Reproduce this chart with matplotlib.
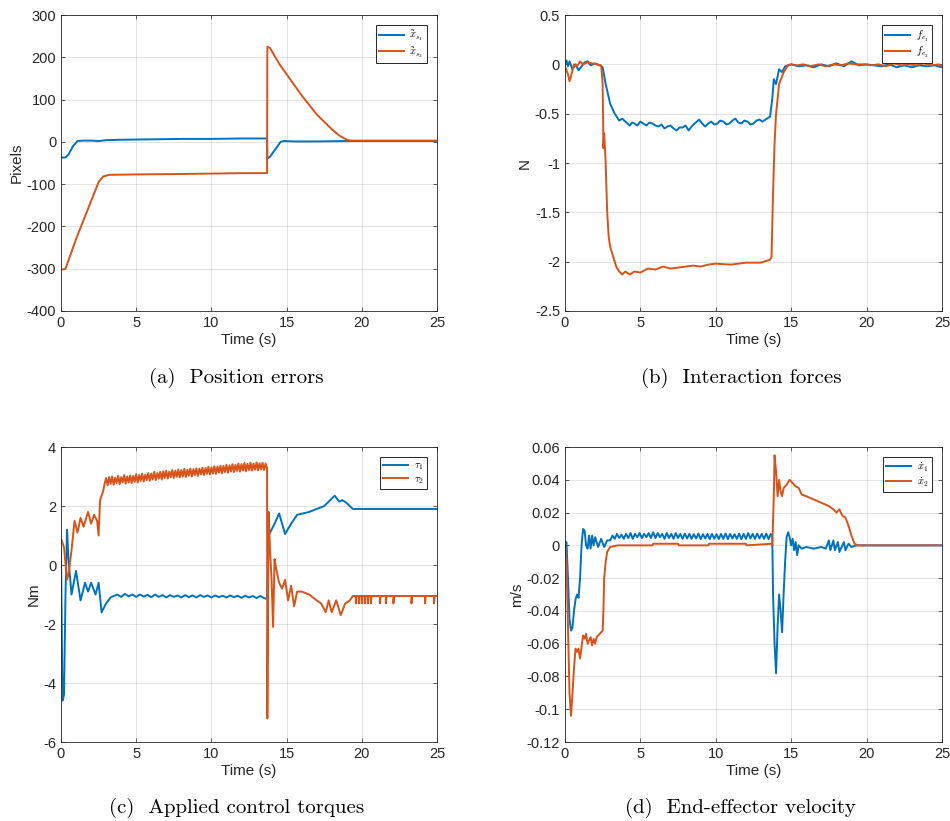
import matplotlib
matplotlib.use('Agg')
import matplotlib.pyplot as plt
from matplotlib.ticker import FuncFormatter

plt.rcParams['font.family'] = ['Liberation Sans', 'DejaVu Sans']
plt.rcParams['mathtext.fontset'] = 'cm'
plt.rcParams['axes.unicode_minus'] = False

BLUE = '#0072BD'
ORANGE = '#D95319'
DARK = '#262626'

# (a) position errors, (time, pixels)
xs1 = [(0, -37), (0.3, -37), (0.5, -30), (0.8, -10), (1.1, 2), (1.5, 3), (2.0, 3), (2.5, 2),
       (3.0, 4), (4, 5), (6, 6), (8, 7), (10, 7), (12, 8), (13.7, 8), (13.72, -40), (13.9, -35),
       (14.2, -20), (14.6, 0), (14.8, 2), (15.5, 1), (17, 1), (19, 2), (21, 2), (25, 2)]
xs2 = [(0, -303), (0.3, -300), (0.5, -280), (1.0, -230), (1.5, -185), (2.0, -140), (2.5, -95),
       (2.8, -82), (3.2, -78), (5, -77), (8, -76), (10, -75), (12, -74), (13.7, -74),
       (13.72, 225), (13.9, 222), (14.5, 185), (15, 160), (16, 110), (17, 65), (18, 30),
       (18.5, 15), (19, 5), (19.3, 3), (25, 3)]

# (b) interaction forces, (time, N)
fe1 = [(0, 0), (0.1, 0.04), (0.2, -0.02), (0.3, 0.03), (0.5, -0.05), (0.7, 0.0), (0.9, -0.06),
       (1.1, -0.02), (1.3, 0.02), (1.5, 0.03), (1.7, -0.01), (2.0, 0.01), (2.3, -0.01),
       (2.5, -0.03), (2.7, -0.2), (3.0, -0.4), (3.3, -0.5), (3.6, -0.57), (3.8, -0.55),
       (4.0, -0.58), (4.15, -0.6), (4.3, -0.62), (4.45, -0.59), (4.6, -0.6), (4.8, -0.62),
       (5.0, -0.58), (5.2, -0.6), (5.4, -0.62), (5.6, -0.59), (5.8, -0.6), (6.0, -0.62),
       (6.2, -0.63), (6.4, -0.61), (6.6, -0.65), (6.8, -0.63), (7.0, -0.62), (7.2, -0.65),
       (7.4, -0.67), (7.6, -0.64), (7.8, -0.64), (8.0, -0.62), (8.2, -0.67), (8.4, -0.63),
       (8.6, -0.6), (8.75, -0.58), (8.9, -0.56), (9.1, -0.6), (9.3, -0.63), (9.5, -0.6),
       (9.7, -0.58), (9.9, -0.61), (10.1, -0.6), (10.3, -0.57), (10.5, -0.58), (10.7, -0.61),
       (10.9, -0.6), (11.1, -0.57), (11.3, -0.55), (11.5, -0.59), (11.7, -0.6), (11.9, -0.57),
       (12.1, -0.58), (12.3, -0.61), (12.5, -0.6), (12.7, -0.57), (12.9, -0.56), (13.1, -0.58),
       (13.3, -0.56), (13.6, -0.53), (13.75, -0.35), (13.85, -0.15), (14.0, -0.2), (14.2, -0.05),
       (14.4, -0.08), (14.6, -0.02), (15.0, 0.0), (15.5, -0.02), (16.0, -0.01), (16.5, -0.03),
       (17.0, 0.0), (17.5, -0.02), (18.0, 0.01), (18.5, -0.02), (19.0, 0.03), (19.5, -0.01),
       (20.0, 0.0), (20.5, -0.01), (21.0, -0.02), (21.5, 0.0), (22.0, -0.03), (22.5, -0.01),
       (23.0, -0.03), (23.5, -0.01), (24.0, -0.02), (24.5, -0.01), (25.0, -0.03)]
fe2 = [(0, -0.02), (0.2, -0.1), (0.3, -0.17), (0.4, -0.12), (0.6, 0.0), (0.8, -0.02), (1.0, 0.03),
       (1.2, 0.0), (1.5, 0.02), (1.8, 0.01), (2.1, 0.0), (2.4, -0.01), (2.5, -0.2), (2.55, -0.85),
       (2.6, -0.7), (2.7, -1.0), (2.8, -1.5), (2.9, -1.75), (3.0, -1.85), (3.2, -1.95),
       (3.4, -2.05), (3.6, -2.1), (3.8, -2.13), (4.0, -2.1), (4.3, -2.13), (4.6, -2.1),
       (5.0, -2.11), (5.5, -2.07), (6.0, -2.08), (6.5, -2.05), (7.0, -2.07), (7.5, -2.06),
       (8.0, -2.05), (8.5, -2.04), (9.0, -2.05), (9.5, -2.03), (10.0, -2.02), (11.0, -2.03),
       (12.0, -2.01), (13.0, -2.01), (13.6, -1.98), (13.7, -1.95), (13.8, -1.3), (13.9, -0.8),
       (14.0, -0.5), (14.2, -0.2), (14.5, -0.08), (14.8, -0.01), (15.0, 0.0), (15.4, -0.01),
       (15.8, 0.0), (16.3, -0.02), (16.8, 0.0), (17.3, -0.02), (17.8, 0.0), (18.3, -0.01),
       (18.8, 0.01), (19.3, 0.0), (19.8, 0.0), (20.3, -0.01), (20.8, 0.0), (21.3, -0.02),
       (21.8, 0.01), (22.3, -0.01), (22.8, 0.0), (23.3, -0.01), (23.8, 0.01), (24.3, -0.01),
       (24.8, 0.0), (25.0, -0.02)]

# (c) applied torques, (time, Nm)
tau1 = [(0, 0.5), (0.1, -4.6), (0.2, -4.4), (0.3, -1.0), (0.4, 1.2), (0.5, 0.2), (0.7, -1.0),
        (1.0, -0.2), (1.3, -1.2), (1.6, -0.6), (1.8, -0.9), (2.0, -0.6), (2.3, -1.0),
        (2.5, -0.6), (2.7, -1.6), (3.0, -1.3), (3.3, -1.1), (3.5, -1.05), (3.75, -1.0),
        (4.0, -1.08), (4.25, -0.98), (4.5, -1.06), (4.75, -1.0), (5.0, -1.08), (5.25, -1.0),
        (5.5, -1.07), (5.75, -1.01), (6.0, -1.09), (6.25, -1.0), (6.5, -1.08), (6.75, -1.02),
        (7.0, -1.1), (7.25, -1.02), (7.5, -1.08), (7.75, -1.03), (8.0, -1.1), (8.25, -1.02),
        (8.5, -1.09), (8.75, -1.03), (9.0, -1.1), (9.25, -1.02), (9.5, -1.08), (9.75, -1.03),
        (10.0, -1.1), (10.25, -1.03), (10.5, -1.09), (10.75, -1.04), (11.0, -1.1),
        (11.25, -1.03), (11.5, -1.09), (11.75, -1.04), (12.0, -1.11), (12.25, -1.04),
        (12.5, -1.1), (12.75, -1.05), (13.0, -1.12), (13.25, -1.05), (13.5, -1.12),
        (13.7, -1.15), (13.8, 1.0), (14.2, 1.4), (14.5, 1.75), (14.9, 1.05), (15.3, 1.4),
        (15.7, 1.7), (16.5, 1.8), (17.5, 2.0), (18.2, 2.35), (18.5, 2.15), (18.7, 2.2),
        (19.0, 2.1), (19.4, 1.9), (22, 1.9), (25, 1.9)]
tau2 = [(0, 0.9), (0.2, 0.6), (0.4, -0.5), (0.5, -0.3), (0.7, 0.5), (0.9, 1.5), (1.1, 1.1),
        (1.3, 1.6), (1.5, 1.3), (1.8, 1.8), (2.0, 1.4), (2.2, 1.7), (2.4, 1.5), (2.5, 1.0),
        (2.6, 2.2), (2.8, 2.5), (2.9, 2.75),
        (3.0, 2.95), (3.1, 2.7), (3.2, 2.98), (3.3, 2.75), (3.4, 3.0), (3.5, 2.72), (3.6, 2.96),
        (3.7, 2.78), (3.8, 3.02), (3.9, 2.74), (4.0, 2.98), (4.1, 2.8), (4.2, 3.05), (4.3, 2.76),
        (4.4, 3.0), (4.5, 2.8), (4.6, 3.04), (4.7, 2.78), (4.8, 3.02), (4.9, 2.82), (5.0, 3.08),
        (5.1, 2.8), (5.2, 3.05), (5.3, 2.85), (5.4, 3.1), (5.5, 2.83), (5.6, 3.06), (5.7, 2.88),
        (5.8, 3.12), (5.9, 2.86), (6.0, 3.1), (6.1, 2.9), (6.2, 3.16), (6.3, 2.88), (6.4, 3.12),
        (6.5, 2.93), (6.6, 3.16), (6.7, 2.9), (6.8, 3.18), (6.9, 2.95), (7.0, 3.2), (7.1, 2.93),
        (7.2, 3.17), (7.3, 2.98), (7.4, 3.22), (7.5, 2.95), (7.6, 3.2), (7.7, 2.99), (7.8, 3.24),
        (7.9, 2.97), (8.0, 3.22), (8.1, 3.0), (8.2, 3.26), (8.3, 2.98), (8.4, 3.23), (8.5, 3.03),
        (8.6, 3.27), (8.7, 3.0), (8.8, 3.25), (8.9, 3.05), (9.0, 3.28), (9.1, 3.02), (9.2, 3.27),
        (9.3, 3.07), (9.4, 3.3), (9.5, 3.05), (9.6, 3.29), (9.7, 3.09), (9.8, 3.33), (9.9, 3.07),
        (10.0, 3.31), (10.1, 3.1), (10.2, 3.35), (10.3, 3.09), (10.4, 3.34), (10.5, 3.13),
        (10.6, 3.37), (10.7, 3.11), (10.8, 3.36), (10.9, 3.15), (11.0, 3.4), (11.1, 3.13),
        (11.2, 3.38), (11.3, 3.17), (11.4, 3.42), (11.5, 3.15), (11.6, 3.4), (11.7, 3.19),
        (11.8, 3.44), (11.9, 3.17), (12.0, 3.42), (12.1, 3.2), (12.2, 3.46), (12.3, 3.18),
        (12.4, 3.43), (12.5, 3.22), (12.6, 3.47), (12.7, 3.2), (12.8, 3.44), (12.9, 3.23),
        (13.0, 3.48), (13.1, 3.21), (13.2, 3.45), (13.3, 3.24), (13.4, 3.47), (13.5, 3.22),
        (13.6, 3.44), (13.7, 3.3), (13.72, -5.2), (13.8, 1.8),
        (13.9, 0.5), (14.0, -0.5), (14.1, -2.1), (14.2, 0.2), (14.3, -0.1), (14.5, -0.6),
        (14.7, -0.8), (14.9, -0.5), (15.1, -1.2), (15.3, -0.7), (15.5, -1.4), (15.7, -0.9),
        (16.0, -0.9), (16.5, -1.0), (17.0, -1.2), (17.3, -1.3), (17.6, -1.6), (17.8, -1.2),
        (18.0, -1.6), (18.3, -1.2), (18.6, -1.7), (18.9, -1.3), (19.2, -1.2), (19.4, -1.05),
        (19.6, -1.05), (19.6, -1.3), (19.65, -1.05), (19.8, -1.05), (19.8, -1.3), (19.85, -1.05),
        (20.0, -1.05), (20.0, -1.3), (20.05, -1.05), (20.2, -1.05), (20.2, -1.3), (20.25, -1.05),
        (20.4, -1.05), (20.4, -1.3), (20.45, -1.05), (20.6, -1.05), (20.6, -1.3), (20.65, -1.05),
        (21.2, -1.05), (21.2, -1.3), (21.25, -1.05), (21.6, -1.05), (21.6, -1.3), (21.65, -1.05),
        (22.1, -1.05), (22.1, -1.3), (22.15, -1.05), (23.3, -1.05), (23.3, -1.3), (23.35, -1.05),
        (24.2, -1.05), (24.2, -1.3), (24.25, -1.05), (24.8, -1.05), (24.8, -1.3), (24.85, -1.05),
        (25.0, -1.05)]

# (d) end-effector velocity, (time, m/s)
x1dot = [(0, 0.002), (0.1, 0.002), (0.2, -0.02), (0.3, -0.045), (0.4, -0.052), (0.5, -0.05),
         (0.6, -0.04), (0.7, -0.033), (0.8, -0.03), (0.9, -0.032), (1.0, -0.02), (1.1, 0.0),
         (1.2, 0.01), (1.3, 0.009), (1.4, 0.0), (1.5, -0.002), (1.6, 0.006), (1.7, -0.002),
         (1.8, 0.006), (1.9, 0.0), (2.0, 0.005), (2.2, -0.001), (2.4, 0.004), (2.6, -0.001),
         (2.8, 0.003), (3.0, 0.003), (3.15, 0.006), (3.3, 0.004), (3.45, 0.007), (3.6, 0.0045),
         (3.75, 0.0065), (3.9, 0.004), (4.05, 0.007), (4.2, 0.0045), (4.35, 0.0075), (4.5, 0.004),
         (4.65, 0.007), (4.8, 0.005), (4.95, 0.0075), (5.1, 0.0045), (5.25, 0.007), (5.4, 0.005),
         (5.55, 0.0075), (5.7, 0.0045), (5.85, 0.008), (6.0, 0.0045), (6.15, 0.0075),
         (6.3, 0.005), (6.45, 0.007), (6.6, 0.004), (6.75, 0.0075), (6.9, 0.0045), (7.05, 0.007),
         (7.2, 0.004), (7.35, 0.0075), (7.5, 0.0045), (7.65, 0.007), (7.8, 0.004), (7.95, 0.0072),
         (8.1, 0.0042), (8.25, 0.007), (8.4, 0.004), (8.55, 0.0068), (8.7, 0.0042),
         (8.85, 0.0072), (9.0, 0.0038), (9.15, 0.0068), (9.3, 0.0042), (9.45, 0.007),
         (9.6, 0.0038), (9.75, 0.007), (9.9, 0.004), (10.05, 0.0068), (10.2, 0.0038),
         (10.35, 0.007), (10.5, 0.004), (10.65, 0.0072), (10.8, 0.0038), (10.95, 0.007),
         (11.1, 0.0042), (11.25, 0.0068), (11.4, 0.004), (11.55, 0.0072), (11.7, 0.0038),
         (11.85, 0.007), (12.0, 0.004), (12.15, 0.0075), (12.3, 0.0042), (12.45, 0.007),
         (12.6, 0.004), (12.75, 0.0072), (12.9, 0.0042), (13.05, 0.007), (13.2, 0.004),
         (13.35, 0.0072), (13.5, 0.0038), (13.65, 0.007), (13.75, 0.005), (13.8, -0.03),
         (13.9, -0.06), (14.0, -0.078), (14.1, -0.05), (14.2, -0.03), (14.3, -0.04),
         (14.4, -0.053), (14.5, -0.03), (14.6, -0.01), (14.7, 0.005), (14.8, 0.008),
         (14.9, 0.005), (15.0, 0.0), (15.1, 0.004), (15.2, -0.003), (15.3, 0.002),
         (15.4, -0.006), (15.5, 0.0), (15.7, -0.002), (16.0, -0.001), (16.5, -0.002),
         (17.0, -0.001), (17.3, -0.002), (17.5, 0.003), (17.6, -0.003), (17.8, 0.003),
         (17.9, -0.003), (18.1, 0.002), (18.2, -0.004), (18.5, 0.002), (18.6, -0.003),
         (18.8, 0.001), (19.0, -0.001), (19.3, 0.0), (25, 0.0)]
x2dot = [(0, 0.0), (0.1, -0.01), (0.2, -0.05), (0.3, -0.09), (0.4, -0.104), (0.5, -0.09),
         (0.6, -0.075), (0.7, -0.063), (0.8, -0.065), (0.9, -0.063), (1.0, -0.069),
         (1.1, -0.062), (1.2, -0.055), (1.3, -0.057), (1.4, -0.054), (1.5, -0.06), (1.6, -0.058),
         (1.7, -0.056), (1.8, -0.061), (1.9, -0.057), (2.0, -0.06), (2.1, -0.056), (2.2, -0.055),
         (2.3, -0.054), (2.5, -0.052), (2.55, -0.04), (2.6, -0.02), (2.7, -0.01), (2.8, -0.004),
         (3.0, -0.001), (3.5, 0.0), (5.8, 0.0), (5.85, 0.001), (7.5, 0.001), (7.55, 0.0),
         (9.5, 0.0), (9.55, 0.001), (12.0, 0.001), (12.05, 0.0), (13.7, 0.001), (13.75, 0.0),
         (13.85, 0.03), (13.9, 0.055), (14.0, 0.045), (14.1, 0.03), (14.2, 0.04), (14.3, 0.033),
         (14.4, 0.03), (14.5, 0.035), (14.7, 0.037), (14.9, 0.04), (15.1, 0.038), (15.3, 0.036),
         (15.5, 0.035), (15.7, 0.031), (16.0, 0.03), (16.5, 0.028), (17.0, 0.026),
         (17.5, 0.024), (17.8, 0.022), (18.0, 0.02), (18.2, 0.022), (18.4, 0.018),
         (18.6, 0.017), (18.8, 0.012), (19.0, 0.006), (19.2, 0.001), (19.4, 0.0), (25, 0.0)]

panels = [
    dict(series=[xs1, xs2], labels=[r'$\tilde{x}_{s_1}$', r'$\tilde{x}_{s_2}$'], ylabel='Pixels',
         ylim=(-400, 300), yticks=[-400, -300, -200, -100, 0, 100, 200, 300],
         caption='(a)  Position errors', rect=[0.0642, 0.6212, 0.3958, 0.3605], cap=(0.249, 0.528)),
    dict(series=[fe1, fe2], labels=[r'$f_{e_1}$', r'$f_{e_2}$'], ylabel='N',
         ylim=(-2.5, 0.5), yticks=[-2.5, -2, -1.5, -1, -0.5, 0, 0.5],
         caption='(b)  Interaction forces', rect=[0.5947, 0.6212, 0.3968, 0.3605], cap=(0.780, 0.528)),
    dict(series=[tau1, tau2], labels=[r'$\tau_1$', r'$\tau_2$'], ylabel='Nm',
         ylim=(-6, 4), yticks=[-6, -4, -2, 0, 2, 4],
         caption='(c)  Applied control torques', rect=[0.0642, 0.0962, 0.3958, 0.3593], cap=(0.249, 0.004)),
    dict(series=[x1dot, x2dot], labels=[r'$\dot{x}_1$', r'$\dot{x}_2$'], ylabel='m/s',
         ylim=(-0.12, 0.06), yticks=[-0.12, -0.1, -0.08, -0.06, -0.04, -0.02, 0, 0.02, 0.04, 0.06],
         caption='(d)  End-effector velocity', rect=[0.5947, 0.0962, 0.3968, 0.3593], cap=(0.779, 0.004)),
]

fig = plt.figure(figsize=(9.5, 8.21), dpi=100)
for p in panels:
    ax = fig.add_axes(p['rect'])
    for pts, col, lab in zip(p['series'], [BLUE, ORANGE], p['labels']):
        t, v = zip(*pts)
        ax.plot(t, v, color=col, lw=1.4, label=lab)
    ax.set_xlim(0, 25)
    ax.set_ylim(*p['ylim'])
    ax.set_xticks([0, 5, 10, 15, 20, 25])
    ax.set_yticks(p['yticks'])
    ax.yaxis.set_major_formatter(FuncFormatter(lambda v, pos: '%g' % v))
    ax.grid(True, color=DARK, alpha=0.15, lw=0.6)
    ax.tick_params(direction='in', length=3, width=0.5, colors=DARK, labelsize=10.5,
                   top=True, right=True)
    for s in ax.spines.values():
        s.set_color(DARK)
        s.set_linewidth(0.6)
    ax.set_xlabel('Time (s)', fontsize=11, color=DARK, labelpad=2)
    ax.set_ylabel(p['ylabel'], fontsize=11, color=DARK, labelpad=2)
    leg = ax.legend(loc='upper right', fontsize=7.5, fancybox=False, framealpha=1,
                    edgecolor=DARK, handlelength=2.4, borderaxespad=1.0, labelspacing=0.15,
                    handletextpad=0.5, borderpad=0.3)
    leg.get_frame().set_linewidth(0.7)
    fig.text(p['cap'][0], p['cap'][1], p['caption'],
             family='cmr10', fontsize=15, ha='center', va='bottom')

fig.savefig('out.png', dpi=100)
